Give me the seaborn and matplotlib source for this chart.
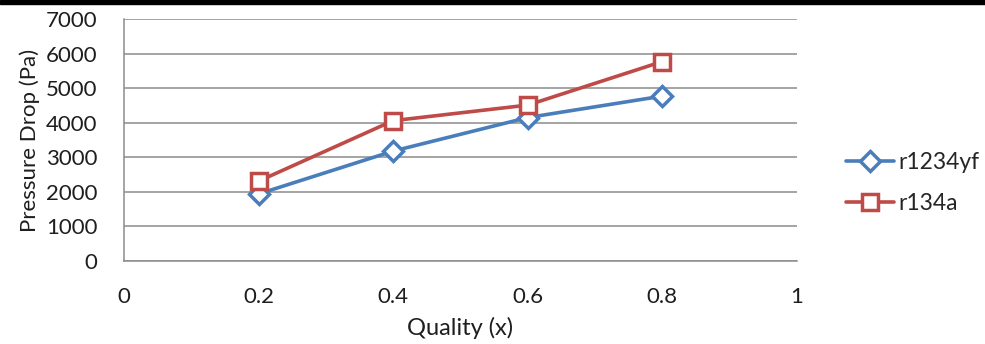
import matplotlib
matplotlib.use("Agg")
import matplotlib.pyplot as plt
from matplotlib.patches import Rectangle
import pandas as pd
import seaborn as sns

# Vapour quality and measured pressure drop for both refrigerants
quality = [0.2, 0.4, 0.6, 0.8]
dp_r1234yf = [1940, 3180, 4150, 4770]
dp_r134a = [2310, 4060, 4510, 5770]

series_names = ["r1234yf", "r134a"]
series_colors = {"r1234yf": "#4A7EBB", "r134a": "#BE4B48"}
series_markers = {"r1234yf": "D", "r134a": "s"}

x_ticks = [0, 0.2, 0.4, 0.6, 0.8, 1]
x_tick_labels = ["0", "0.2", "0.4", "0.6", "0.8", "1"]
y_ticks = [0, 1000, 2000, 3000, 4000, 5000, 6000, 7000]

df = pd.DataFrame({
    "Quality": quality * 2,
    "Pressure": dp_r1234yf + dp_r134a,
    "Refrigerant": ["r1234yf"] * len(quality) + ["r134a"] * len(quality),
})

sns.set_style("white")
plt.rcParams["font.family"] = ["Lato", "DejaVu Sans"]

fig = plt.figure(figsize=(9.85, 3.44), dpi=100)
ax = fig.add_axes([124 / 985, 1 - 261 / 344, (797 - 124) / 985, (261 - 19) / 344])

marker_sizes = {"r1234yf": 10.5, "r134a": 12}
for name in series_names:
    sub = df[df["Refrigerant"] == name]
    sns.lineplot(
        data=sub, x="Quality", y="Pressure", ax=ax,
        color=series_colors[name], marker=series_markers[name],
        markersize=marker_sizes[name], markerfacecolor="white",
        markeredgecolor=series_colors[name], markeredgewidth=2.5,
        linewidth=2.6, label=name, zorder=3,
    )

ax.set_xlim(0, 1)
ax.set_ylim(0, 7000)
ax.set_xticks(x_ticks)
ax.set_xticklabels(x_tick_labels)
ax.set_yticks(y_ticks)
ax.yaxis.grid(True, color="#8C8C8C", linewidth=1.1)
ax.xaxis.grid(False)
for side in ("top", "right"):
    ax.spines[side].set_visible(False)
for side in ("left", "bottom"):
    ax.spines[side].set_color("#8C8C8C")
    ax.spines[side].set_linewidth(1.1)

text_color = "#1E1E1E"
ax.tick_params(axis="y", length=0, pad=19, labelsize=16, labelcolor=text_color)
ax.tick_params(axis="x", length=0, pad=19, labelsize=16, labelcolor=text_color)
ax.set_xlabel("Quality (x)", fontsize=17, color=text_color, labelpad=7)
ax.set_ylabel("Pressure Drop (Pa)", fontsize=16, color=text_color, labelpad=4)

if ax.legend_ is not None:
    ax.legend_.remove()
handles, labels = ax.get_legend_handles_labels()
fig.legend(
    handles, labels, loc="center left", bbox_to_anchor=(846 / 985, 1 - 183 / 344),
    frameon=False, fontsize=16.5, handlelength=2.1, handletextpad=0.2,
    labelspacing=0.85, borderpad=0, borderaxespad=0,
)

# Dark band along the top edge
fig.add_artist(Rectangle((0, 1 - 4 / 344), 1, 4 / 344, transform=fig.transFigure,
                         color="black", zorder=10))

fig.savefig("out.png", dpi=100)
